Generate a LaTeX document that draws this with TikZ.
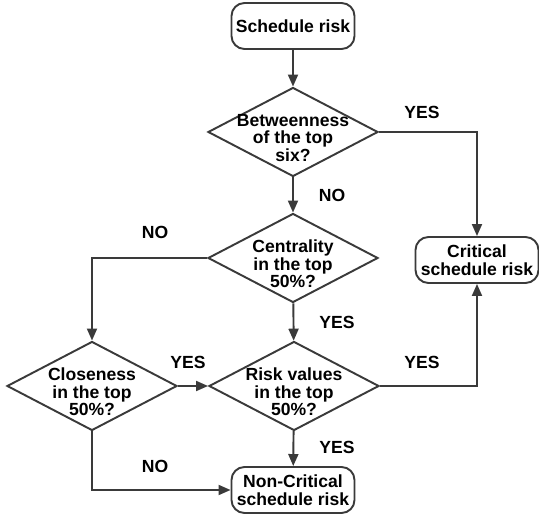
\documentclass[tikz,border=0pt]{standalone}
\usepackage{fontspec}
\setmainfont{Liberation Sans}
\usetikzlibrary{shapes.geometric,arrows.meta,positioning}
\definecolor{flowgray}{RGB}{58,58,58}

\begin{document}
\begin{tikzpicture}[x=0.2mm, y=-0.2mm,
    font=\fontsize{10pt}{10pt}\selectfont\bfseries,
    terminal/.style={draw=flowgray, line width=1.1pt, rounded corners=2.6mm,
        minimum width=24.6mm, minimum height=9.2mm, inner sep=1pt, align=center},
    decision/.style={draw=flowgray, line width=1.1pt, diamond, inner sep=0pt,
        minimum width=34mm, minimum height=17.8mm},
    qtext/.style={align=center, inner sep=0pt, yshift=-1.2mm},
    answer/.style={inner sep=1pt},
    flow/.style={-{Triangle[length=2.4mm,width=2mm]}, draw=flowgray, line width=1.1pt}]
    \useasboundingbox (0,0) rectangle (539,518);

    % start and end boxes
    \node[terminal] (sched) at (293,26) {Schedule risk};
    \node[terminal] (crit) at (477,260) {Critical\\schedule risk};
    \node[terminal] (noncrit) at (293,490) {Non-Critical\\schedule risk};

    % decisions
    \node[decision, label={[qtext]center:Betweenness\\of the top\\six?}] (btw) at (293,132) {};
    \node[decision, label={[qtext]center:Centrality\\in the top\\50\%?}] (cent) at (293,258) {};
    \node[decision, label={[qtext]center:Closeness\\in the top\\50\%?}] (clos) at (92,386) {};
    \node[decision, label={[qtext]center:Risk values\\in the top\\50\%?}] (risk) at (294,386) {};

    % connectors
    \draw[flow] (sched) -- (btw);
    \draw[flow] (btw.east) -| (crit.north);
    \draw[flow] (btw) -- (cent);
    \draw[flow] (cent.west) -| (clos.north);
    \draw[flow] (cent) -- (risk);
    \draw[flow] (clos.east) -- (risk.west);
    \draw[flow] (risk.east) -| (crit.south);
    \draw[flow] (risk) -- (noncrit);
    \draw[flow] (clos.south) |- (noncrit.west);

    % answers
    \node[answer] (a1) at (422,112) {YES};
    \node[answer] (a2) at (332,195) {NO};
    \node[answer] (a3) at (155,232) {NO};
    \node[answer] (a4) at (337,322) {YES};
    \node[answer] (a5) at (188,362) {YES};
    \node[answer] (a6) at (422,362) {YES};
    \node[answer] (a7) at (337,447) {YES};
    \node[answer] (a8) at (155,466) {NO};
\end{tikzpicture}
\end{document}
